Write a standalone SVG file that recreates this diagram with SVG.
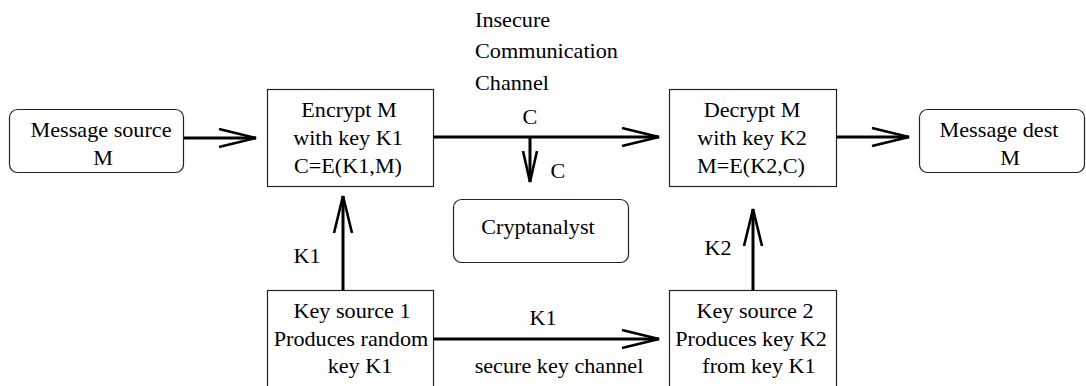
<svg xmlns="http://www.w3.org/2000/svg" width="1086" height="386" viewBox="0 0 1086 386">
<style>
.box{fill:#fff;stroke:#222;stroke-width:1.2}
.wire{fill:none;stroke:#000;stroke-width:3}
text{font-family:"Liberation Serif","Times New Roman",serif;font-size:20px;fill:#000}
.c{text-anchor:middle}
</style>
<defs>
<marker id="ah" markerUnits="userSpaceOnUse" markerWidth="44" markerHeight="24" viewBox="-40 -12 44 24" refX="0" refY="0" orient="auto">
<path d="M-37,-9 L0,0 L-37,9" fill="none" stroke="#000" stroke-width="2.6"/>
</marker>
<marker id="ahs" markerUnits="userSpaceOnUse" markerWidth="40" markerHeight="20" viewBox="-36 -10 40 20" refX="0" refY="0" orient="auto">
<path d="M-31,-7 L0,0 L-31,7" fill="none" stroke="#000" stroke-width="2.6"/>
</marker>
</defs>
<rect width="1086" height="386" fill="#fff"/>
<g id="connectors">
<line class="wire" x1="184" y1="138" x2="256" y2="138" marker-end="url(#ah)"/>
<line class="wire" x1="434" y1="137" x2="659" y2="137" marker-end="url(#ah)"/>
<line class="wire" x1="530" y1="137" x2="530" y2="182" marker-end="url(#ahs)"/>
<line class="wire" x1="837" y1="137" x2="909" y2="137" marker-end="url(#ah)"/>
<line class="wire" x1="343" y1="290" x2="343" y2="196" marker-end="url(#ah)"/>
<line class="wire" x1="753" y1="290" x2="753" y2="209" marker-end="url(#ah)"/>
<line class="wire" x1="434" y1="339" x2="659" y2="339" marker-end="url(#ah)"/>
<text class="c" transform="translate(530,124) scale(1.11,1)">C</text>
<text class="c" transform="translate(558,178) scale(1.11,1)">C</text>
<text transform="translate(475,27) scale(1.11,1)">Insecure</text>
<text transform="translate(475,58) scale(1.11,1)">Communication</text>
<text transform="translate(475,90) scale(1.11,1)">Channel</text>
<text class="c" transform="translate(307,263) scale(1.11,1)">K1</text>
<text class="c" transform="translate(718,255) scale(1.11,1)">K2</text>
<text class="c" transform="translate(543,325) scale(1.11,1)">K1</text>
<text class="c" transform="translate(559,373) scale(1.11,1)">secure key channel</text>
</g>
<g id="msg-source">
<rect class="box" x="9.5" y="109.5" width="174" height="63" rx="8"/>
<text class="c" transform="translate(101,137) scale(1.11,1)">Message source</text>
<text class="c" transform="translate(103,165) scale(1.11,1)">M</text>
</g>
<g id="encrypt">
<rect class="box" x="267.5" y="89.5" width="166" height="97"/>
<text class="c" transform="translate(349,117) scale(1.11,1)">Encrypt M</text>
<text class="c" transform="translate(348,145) scale(1.11,1)">with key K1</text>
<text class="c" transform="translate(348,173) scale(1.11,1)">C=E(K1,M)</text>
</g>
<g id="decrypt">
<rect class="box" x="669.5" y="89.5" width="167" height="97"/>
<text class="c" transform="translate(752,117) scale(1.11,1)">Decrypt M</text>
<text class="c" transform="translate(752,145) scale(1.11,1)">with key K2</text>
<text class="c" transform="translate(751,173) scale(1.11,1)">M=E(K2,C)</text>
</g>
<g id="msg-dest">
<rect class="box" x="919.5" y="109.5" width="165" height="63" rx="8"/>
<text class="c" transform="translate(999,137) scale(1.11,1)">Message dest</text>
<text class="c" transform="translate(1010,165) scale(1.11,1)">M</text>
</g>
<g id="cryptanalyst">
<rect class="box" x="453.5" y="199.5" width="175" height="63" rx="8"/>
<text class="c" transform="translate(538,234) scale(1.11,1)">Cryptanalyst</text>
</g>
<g id="key-source-1">
<rect class="box" x="267.5" y="290.5" width="166" height="110"/>
<text class="c" transform="translate(352,318) scale(1.11,1)">Key source 1</text>
<text class="c" transform="translate(351,346) scale(1.11,1)">Produces random</text>
<text class="c" transform="translate(360,373) scale(1.11,1)">key K1</text>
</g>
<g id="key-source-2">
<rect class="box" x="669.5" y="290.5" width="167" height="110"/>
<text class="c" transform="translate(755,318) scale(1.11,1)">Key source 2</text>
<text class="c" transform="translate(751,346) scale(1.11,1)">Produces key K2</text>
<text class="c" transform="translate(759,373) scale(1.11,1)">from key K1</text>
</g>
</svg>
